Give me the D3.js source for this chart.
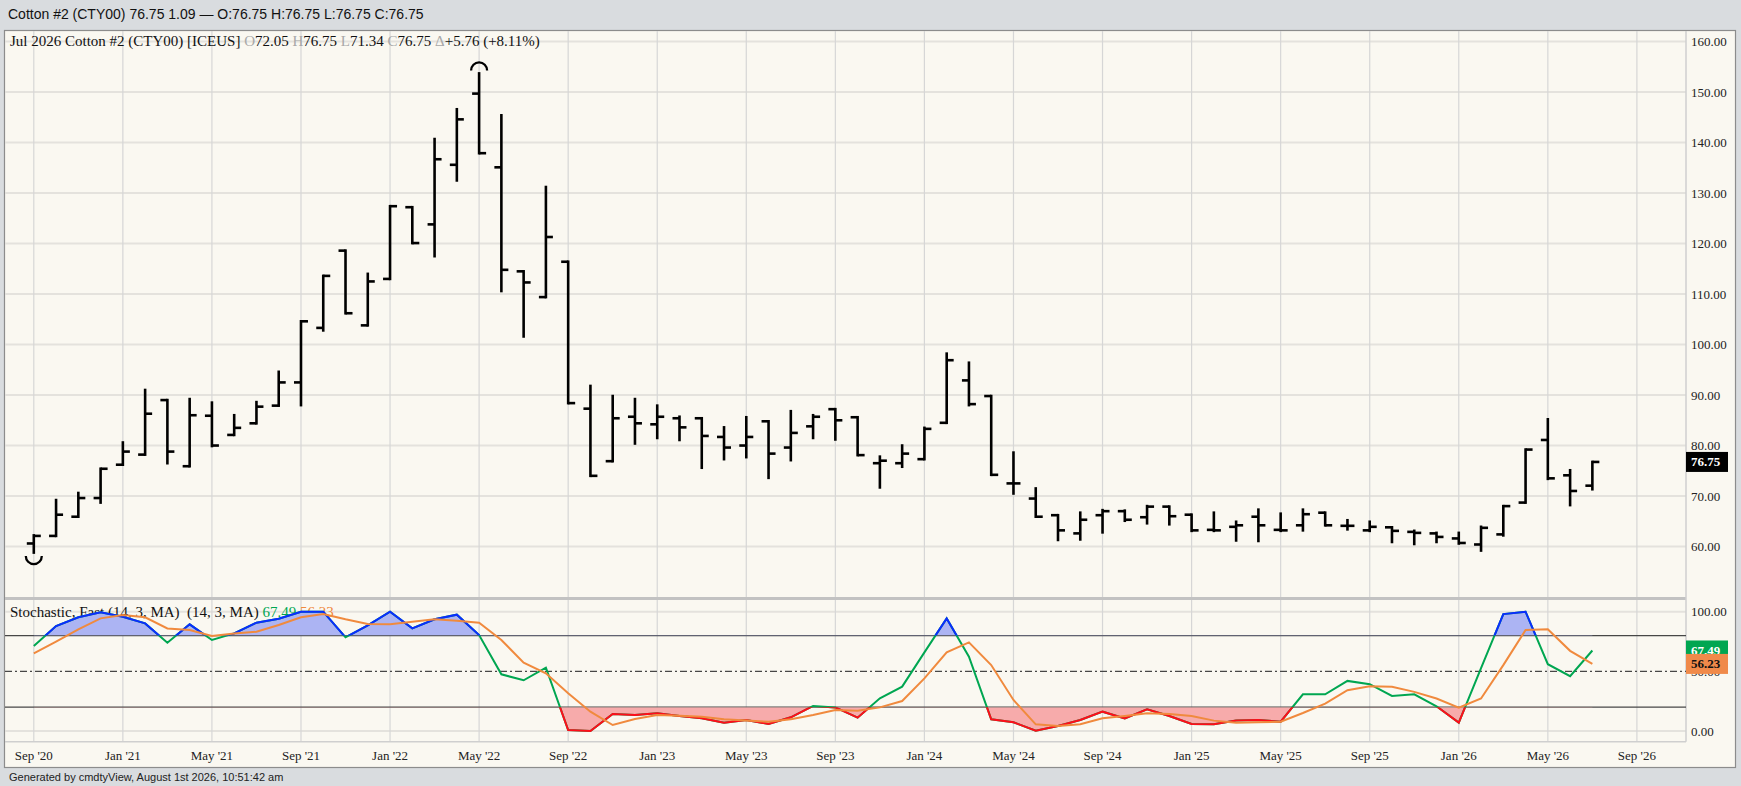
<!DOCTYPE html>
<html><head><meta charset="utf-8">
<script src="https://cdn.jsdelivr.net/npm/d3@7"></script>
<style>
html,body{margin:0;padding:0;background:#d9dcdf;}
svg{display:block;}
text{white-space:pre;}
</style></head>
<body>
<svg id="c" width="1741" height="786"></svg>
<script>
// ---------- DATA ----------
const months = ["2020-09","2020-10","2020-11","2020-12","2021-01","2021-02","2021-03","2021-04","2021-05","2021-06","2021-07","2021-08",
"2021-09","2021-10","2021-11","2021-12","2022-01","2022-02","2022-03","2022-04","2022-05","2022-06","2022-07","2022-08",
"2022-09","2022-10","2022-11","2022-12","2023-01","2023-02","2023-03","2023-04","2023-05","2023-06","2023-07","2023-08",
"2023-09","2023-10","2023-11","2023-12","2024-01","2024-02","2024-03","2024-04","2024-05","2024-06","2024-07","2024-08",
"2024-09","2024-10","2024-11","2024-12","2025-01","2025-02","2025-03","2025-04","2025-05","2025-06","2025-07","2025-08",
"2025-09","2025-10","2025-11","2025-12","2026-01","2026-02","2026-03","2026-04","2026-05","2026-06","2026-07"];
const open  = [60.6,62.1,65.9,69.6,76.2,78.2,89.0,75.9,85.9,82.1,84.4,87.9,92.5,103.3,118.6,103.8,113.0,127.2,123.8,135.6,149.7,135.1,114.5,109.4,
116.4,87.3,76.9,85.7,84.2,85.4,85.4,81.7,80.0,84.8,79.6,83.8,87.2,85.6,76.5,76.5,77.3,84.5,92.9,89.8,72.5,69.5,66.2,62.6,
66.2,67.0,65.8,67.9,66.3,63.3,63.9,65.9,63.3,64.2,66.7,64.1,63.2,63.8,62.9,62.6,61.6,60.4,62.4,68.7,81.1,74.1,72.05];
const high  = [62.2,69.2,70.6,75.4,80.6,91.0,89.0,89.2,88.5,86.0,88.6,94.6,104.6,113.6,118.6,114.0,127.4,127.2,140.7,146.6,153.7,145.4,114.5,131.2,
116.4,91.8,89.8,89.2,87.9,85.7,85.4,83.6,85.6,84.8,86.8,86.0,87.2,85.6,77.8,80.0,83.5,98.2,96.4,89.8,78.6,71.5,66.2,66.7,
67.2,67.1,68.0,67.9,66.3,66.7,64.9,67.3,66.5,67.3,66.7,65.2,64.9,63.8,63.1,62.7,62.7,63.9,68.0,79.2,85.2,75.1,76.75];
const low   = [58.8,62.1,65.9,68.7,76.2,78.2,76.5,75.9,79.9,82.1,84.4,87.9,88.0,102.8,106.2,103.8,113.0,120.1,117.5,132.5,137.9,110.6,101.6,109.4,
88.4,74.0,76.9,80.4,81.5,81.1,75.6,77.3,77.7,73.6,77.1,81.5,81.2,78.1,71.7,75.8,77.3,84.5,88.0,74.2,70.5,65.9,61.3,61.4,
62.8,65.1,64.6,64.4,63.1,63.1,61.2,61.1,63.1,63.2,64.2,63.4,63.1,60.9,60.5,60.9,60.6,59.2,62.2,68.7,73.4,68.2,71.34];
const close = [62.1,66.3,69.6,75.4,78.8,86.3,78.8,86.0,80.0,83.5,87.7,92.5,104.6,113.6,106.2,112.5,127.4,120.1,136.7,144.6,137.9,114.8,112.3,121.3,
88.4,74.0,85.4,84.4,85.7,83.6,81.9,79.6,81.7,78.4,82.5,85.7,85.0,78.1,77.0,78.4,83.3,96.9,88.2,74.2,72.5,65.9,63.2,65.3,
67.0,65.3,67.9,66.0,63.2,63.2,64.2,64.2,63.2,66.4,64.2,64.1,63.9,63.1,62.7,61.9,60.7,63.7,68.0,79.2,73.5,71.0,76.75];
const stochK = [71.2,88.0,95.3,99.5,95.8,90.2,74.0,89.4,76.3,81.8,90.8,94.1,100,100,78.5,88.5,100,86.0,93.6,97.5,80.4,47.5,42.5,53.1,
0.8,0,14.2,13.5,14.8,12.6,10.6,7.0,9.2,5.9,11.5,21.0,19.8,11.2,27.4,37.2,65.9,94.4,62.3,9.8,7.3,0.3,4.2,9.2,
16.2,10.6,18.2,12.6,5.9,5.6,8.7,9.2,7.8,30.8,30.8,42.0,39.2,29.4,30.8,20.7,7.0,52.7,98.0,100,56.0,45.9,67.49];
const stochD = [65.1,74.9,85.2,94.4,97.2,95.3,86.0,84.6,79.6,81.8,83.2,88.8,95.3,98.0,93.6,89.7,89.4,91.6,93.6,92.5,90.8,76.3,57.3,48.3,
31.6,16.2,5.0,10.0,13.4,12.8,12.0,9.8,8.7,7.8,9.8,13.4,17.6,17.0,19.8,25.1,44.1,65.9,74.3,55.3,26.0,5.6,4.2,5.6,
10.6,12.6,14.8,14.2,12.6,8.7,7.0,7.3,7.8,15.1,23.0,34.2,37.5,37.0,32.8,27.2,19.6,27.2,55.2,84.6,85.2,67.2,56.23];
const xTickIdx = [0,4,8,12,16,20,24,28,32,36,40,44,48,52,56,60,64,68,72];
const xTickLabels = ["Sep '20","Jan '21","May '21","Sep '21","Jan '22","May '22","Sep '22","Jan '23","May '23","Sep '23","Jan '24","May '24",
"Sep '24","Jan '25","May '25","Sep '25","Jan '26","May '26","Sep '26"];
const priceTicks = [60,70,80,90,100,110,120,130,140,150,160];
const stochTicks = [0,50,100];
const stochLevels = [20,50,80];
const headerText = "Cotton #2 (CTY00) 76.75 1.09 \u2014 O:76.75 H:76.75 L:76.75 C:76.75";
const legendParts = [["Jul 2026 Cotton #2 (CTY00) [ICEUS] ",0],["O",1],["72.05 ",0],["H",1],["76.75 ",0],["L",1],["71.34 ",0],["C",1],["76.75 ",0],["\u0394",1],["+5.76 (+8.11%)",0]];
const stochTitle = "Stochastic, Fast (14, 3, MA)  (14, 3, MA) ";
const lastPrice = 76.75, lastK = 67.49, lastD = 56.23;
const footerText = "Generated by cmdtyView, August 1st 2026, 10:51:42 am";

// ---------- LAYOUT ----------
const L = 5, R = 1686, T = 31, PB = 597, ST = 600, SB = 741.7;
const serif = "'Liberation Serif','Times New Roman',Times,serif";
const sans = "'Liberation Sans',Arial,Helvetica,sans-serif";
const svg = d3.select("#c");

const x = d3.scaleLinear().domain([0,72]).range([33.8,1636.9]);
const y = d3.scaleLinear().domain([50,162.1]).range([PB,T]);
const ys = d3.scaleLinear().domain([0,100]).range([731,611.7]);

svg.append("rect").attr("width",1741).attr("height",786).attr("fill","#d9dcdf");
svg.append("text").attr("x",8).attr("y",19).attr("font-family",sans).attr("font-size",14).attr("fill","#111").text(headerText);
svg.append("rect").attr("x",4.5).attr("y",30.5).attr("width",1731).attr("height",737).attr("fill","#faf8f1").attr("stroke","#8c8c8c").attr("stroke-width",1.2);

const defs = svg.append("defs");
defs.append("clipPath").attr("id","cpPrice").append("rect").attr("x",L).attr("y",T).attr("width",R-L).attr("height",PB-T);
defs.append("clipPath").attr("id","cpAbove").append("rect").attr("x",L).attr("y",ST).attr("width",R-L).attr("height",ys(80)-ST);
defs.append("clipPath").attr("id","cpBelow").append("rect").attr("x",L).attr("y",ys(20)).attr("width",R-L).attr("height",SB-ys(20));
defs.append("clipPath").attr("id","cpStoch").append("rect").attr("x",L).attr("y",ST).attr("width",R-L).attr("height",SB-ST);

// grid
const grid = svg.append("g");
grid.selectAll(".hg").data(priceTicks).join("line").attr("x1",L).attr("x2",R).attr("y1",d=>y(d)).attr("y2",d=>y(d)).attr("stroke","#e4e2dd").attr("stroke-width",2);
grid.selectAll(".sg").data([0,100]).join("line").attr("x1",L).attr("x2",R).attr("y1",d=>ys(d)).attr("y2",d=>ys(d)).attr("stroke","#e4e2dd").attr("stroke-width",2);
grid.selectAll(".vg").data(xTickIdx).join("line").attr("x1",d=>x(d)).attr("x2",d=>x(d)).attr("y1",T).attr("y2",SB).attr("stroke","#d6d6d6").attr("stroke-width",1.2);
// panel separator & borders
svg.append("rect").attr("x",L).attr("y",PB).attr("width",R-L).attr("height",3).attr("fill","#c2c2c2");
svg.append("line").attr("x1",L).attr("x2",R).attr("y1",SB).attr("y2",SB).attr("stroke","#cfcfcf").attr("stroke-width",1.5);
svg.append("line").attr("x1",R).attr("x2",R).attr("y1",T).attr("y2",SB).attr("stroke","#cfcfcf").attr("stroke-width",1.5);

// legend
const lg = svg.append("text").attr("x",10).attr("y",46).attr("font-family",serif).attr("font-size",15).attr("fill","#111");
legendParts.forEach(p=>lg.append("tspan").attr("fill",p[1]?"#a8a8a8":"#111").text(p[0]));

// price bars
const bars = svg.append("g").attr("clip-path","url(#cpPrice)").attr("stroke","#000").attr("stroke-width",2.6).attr("fill","none");
const idx = d3.range(months.length);
bars.selectAll(".hl").data(idx).join("line").attr("x1",i=>x(i)).attr("x2",i=>x(i)).attr("y1",i=>y(high[i])-1.3).attr("y2",i=>y(low[i])+1.3);
bars.selectAll(".op").data(idx).join("line").attr("x1",i=>x(i)-7).attr("x2",i=>x(i)).attr("y1",i=>y(open[i])).attr("y2",i=>y(open[i]));
bars.selectAll(".cl").data(idx).join("line").attr("x1",i=>x(i)).attr("x2",i=>x(i)+7).attr("y1",i=>y(close[i])).attr("y2",i=>y(close[i]));
const iMax = d3.maxIndex(high), iMin = d3.minIndex(low);
const r = 8;
const cxT = x(iMax), cyT = y(high[iMax])-3;
bars.append("path").attr("stroke-width",2.3).attr("d",`M${cxT-r},${cyT} A${r},${r} 0 0 1 ${cxT+r},${cyT}`);
const cxB = x(iMin), cyB = y(low[iMin])+3.5;
bars.append("path").attr("stroke-width",2.3).attr("d",`M${cxB-r},${cyB} A${r},${r} 0 0 0 ${cxB+r},${cyB}`);

// price axis labels
svg.selectAll(".pl").data(priceTicks).join("text").attr("x",1691).attr("y",d=>y(d)).attr("dy","0.35em")
  .attr("font-family",serif).attr("font-size",13).attr("fill","#222").text(d=>d.toFixed(2));
svg.append("rect").attr("x",R).attr("y",y(lastPrice)-10).attr("width",42).attr("height",20).attr("fill","#000");
svg.append("text").attr("x",1691).attr("y",y(lastPrice)).attr("dy","0.35em").attr("font-family",serif).attr("font-size",13).attr("font-weight","bold").attr("fill","#fff").text(lastPrice.toFixed(2));

// stochastic
const sl = svg.append("text").attr("x",10).attr("y",616.5).attr("font-family",serif).attr("font-size",15).attr("fill","#111");
sl.append("tspan").text(stochTitle);
sl.append("tspan").attr("fill","#00a651").text(lastK.toFixed(2));
sl.append("tspan").text(" ");
sl.append("tspan").attr("fill","#f08a3e").text(lastD.toFixed(2));

const sg = svg.append("g").attr("clip-path","url(#cpStoch)");
sg.selectAll(".lv").data(stochLevels).join("line").attr("x1",L).attr("x2",R).attr("y1",d=>ys(d)).attr("y2",d=>ys(d))
  .attr("stroke","#474747").attr("stroke-width",1.2).attr("stroke-dasharray",d=>d===50?"7,3,2,3":null);

const areaAbove = d3.area().x((d,i)=>x(i)).y0(ys(80)).y1(d=>ys(d));
const areaBelow = d3.area().x((d,i)=>x(i)).y0(ys(20)).y1(d=>ys(d));
const lineS = d3.line().x((d,i)=>x(i)).y(d=>ys(d));
sg.append("g").attr("clip-path","url(#cpAbove)").append("path").attr("d",areaAbove(stochK)).attr("fill","#acb4f3");
sg.append("g").attr("clip-path","url(#cpBelow)").append("path").attr("d",areaBelow(stochK)).attr("fill","#f7abab");
sg.append("path").attr("d",lineS(stochK)).attr("fill","none").attr("stroke","#00a651").attr("stroke-width",2);
sg.append("g").attr("clip-path","url(#cpAbove)").append("path").attr("d",lineS(stochK)).attr("fill","none").attr("stroke","#0a2cff").attr("stroke-width",2);
sg.append("g").attr("clip-path","url(#cpBelow)").append("path").attr("d",lineS(stochK)).attr("fill","none").attr("stroke","#ff0d1a").attr("stroke-width",2);
sg.append("path").attr("d",lineS(stochD)).attr("fill","none").attr("stroke","#f08a3e").attr("stroke-width",2);

svg.selectAll(".sl").data(stochTicks).join("text").attr("x",1691).attr("y",d=>ys(d)).attr("dy","0.35em")
  .attr("font-family",serif).attr("font-size",13).attr("fill","#222").text(d=>d.toFixed(2));
svg.append("rect").attr("x",R).attr("y",ys(lastK)-10).attr("width",42).attr("height",20).attr("fill","#00a651");
svg.append("text").attr("x",1691).attr("y",ys(lastK)).attr("dy","0.35em").attr("font-family",serif).attr("font-size",13).attr("font-weight","bold").attr("fill","#fff").text(lastK.toFixed(2));
svg.append("rect").attr("x",R).attr("y",ys(lastD)-10).attr("width",42).attr("height",20).attr("fill","#f08a4a");
svg.append("text").attr("x",1691).attr("y",ys(lastD)).attr("dy","0.35em").attr("font-family",serif).attr("font-size",13).attr("font-weight","bold").attr("fill","#111").text(lastD.toFixed(2));

// x axis labels
svg.selectAll(".xl").data(xTickIdx).join("text").attr("x",d=>x(d)).attr("y",760).attr("text-anchor","middle")
  .attr("font-family",serif).attr("font-size",13).attr("fill","#222").text((d,i)=>xTickLabels[i]);

// footer
svg.append("text").attr("x",9).attr("y",781).attr("font-family",sans).attr("font-size",11).attr("fill","#222").text(footerText);
</script>
</body></html>
